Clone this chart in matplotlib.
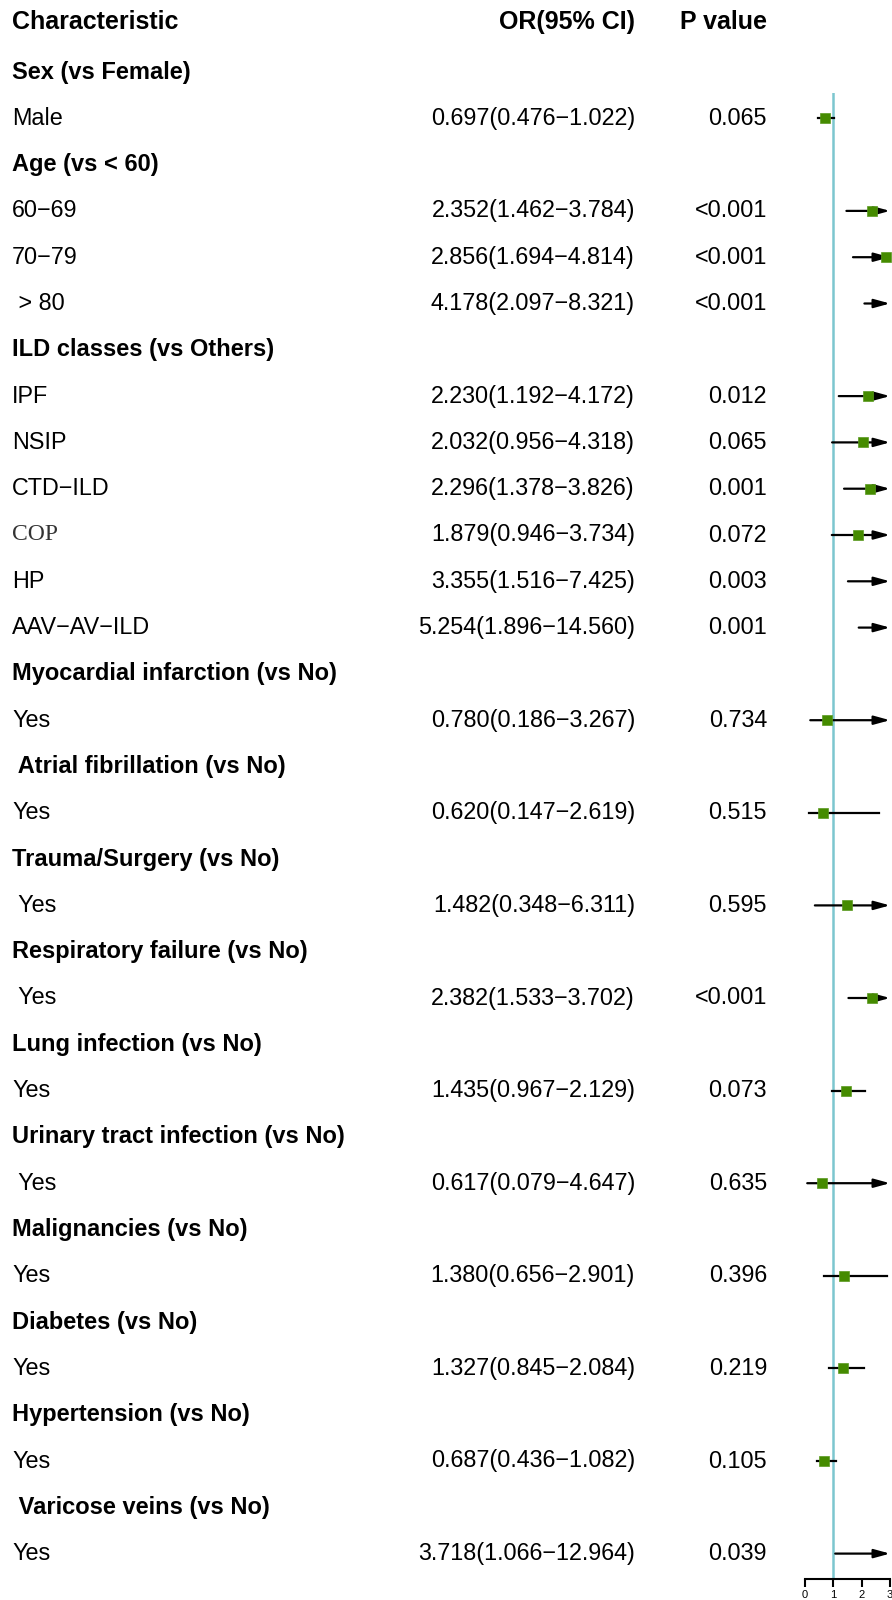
import numpy as np
import matplotlib
matplotlib.use("Agg")
import matplotlib.pyplot as plt

plt.rcParams['font.family'] = ['Liberation Sans', 'DejaVu Sans']

# rows: (label, is_group_header)
labels = [
    "Sex (vs Female)", "Male",
    "Age (vs < 60)", "60\u221269", "70\u221279", " > 80",
    "ILD classes (vs Others)", "IPF", "NSIP", "CTD\u2212ILD", "COP", "HP", "AAV\u2212AV\u2212ILD",
    "Myocardial infarction (vs No)", "Yes",
    " Atrial fibrillation (vs No)", "Yes",
    "Trauma/Surgery (vs No)", " Yes",
    "Respiratory failure (vs No)", " Yes",
    "Lung infection (vs No)", "Yes",
    "Urinary tract infection (vs No)", " Yes",
    "Malignancies (vs No)", "Yes",
    "Diabetes (vs No)", "Yes",
    "Hypertension (vs No)", "Yes",
    " Varicose veins (vs No)", "Yes",
]
is_group = [True, False,
            True, False, False, False,
            True, False, False, False, False, False, False,
            True, False, True, False, True, False, True, False,
            True, False, True, False, True, False, True, False,
            True, False, True, False]

# estimates (None for group rows)
est = [None, 0.697,
       None, 2.352, 2.856, 4.178,
       None, 2.230, 2.032, 2.296, 1.879, 3.355, 5.254,
       None, 0.780, None, 0.620, None, 1.482, None, 2.382,
       None, 1.435, None, 0.617, None, 1.380, None, 1.327,
       None, 0.687, None, 3.718]
low = [None, 0.476,
       None, 1.462, 1.694, 2.097,
       None, 1.192, 0.956, 1.378, 0.946, 1.516, 1.896,
       None, 0.186, None, 0.147, None, 0.348, None, 1.533,
       None, 0.967, None, 0.079, None, 0.656, None, 0.845,
       None, 0.436, None, 1.066]
high = [None, 1.022,
        None, 3.784, 4.814, 8.321,
        None, 4.172, 4.318, 3.826, 3.734, 7.425, 14.560,
        None, 3.267, None, 2.619, None, 6.311, None, 3.702,
        None, 2.129, None, 4.647, None, 2.901, None, 2.084,
        None, 1.082, None, 12.964]
pvals = [None, "0.065",
         None, "<0.001", "<0.001", "<0.001",
         None, "0.012", "0.065", "0.001", "0.072", "0.003", "0.001",
         None, "0.734", None, "0.515", None, "0.595", None, "<0.001",
         None, "0.073", None, "0.635", None, "0.396", None, "0.219",
         None, "0.105", None, "0.039"]

x_ticks = [0, 1, 2, 3]
x_max = 3

W, H = 892, 1600
fig = plt.figure(figsize=(W / 100, H / 100), dpi=100)

# text layer in pixel coordinates
tax = fig.add_axes([0, 0, 1, 1])
tax.set_xlim(0, W)
tax.set_ylim(H, 0)
tax.axis('off')

row0, step = 72, 46.3


def row_y(i):
    return row0 + step * i


tax.text(12, 22, "Characteristic", fontsize=18, fontweight='bold', va='center', ha='left')
tax.text(635, 22, "OR(95% CI)", fontsize=18, fontweight='bold', va='center', ha='right')
tax.text(767, 22, "P value", fontsize=18, fontweight='bold', va='center', ha='right')

for i, lab in enumerate(labels):
    y = row_y(i)
    if is_group[i]:
        tax.text(12, y, lab, fontsize=17, fontweight='bold', va='center', ha='left')
        continue
    if lab == "COP":
        tax.text(12, y, lab, fontsize=17, family='Liberation Serif', color='#333333',
                 va='center', ha='left')
    else:
        tax.text(12, y, lab, fontsize=16.8, va='center', ha='left')
    ci_txt = f"{est[i]:.3f}({low[i]:.3f}\u2212{high[i]:.3f})"
    tax.text(635, y, ci_txt, fontsize=16.8, va='center', ha='right')
    tax.text(767, y, pvals[i], fontsize=16.8, va='center', ha='right')

# forest panel
left_px, right_px = 805, 890
top_px, bot_px = 93, 1579
fax = fig.add_axes([left_px / W, 1 - bot_px / H, (right_px - left_px) / W, (bot_px - top_px) / H])
fax.set_xlim(0, x_max)
y_top = (top_px - row0) / step
y_bot = (bot_px - row0) / step
fax.set_ylim(y_bot, y_top)
fax.patch.set_alpha(0)
for s in ['top', 'right', 'left']:
    fax.spines[s].set_visible(False)
fax.spines['bottom'].set_linewidth(1.5)
fax.set_yticks([])
fax.set_xticks(x_ticks)
fax.tick_params(axis='x', length=6, width=1.5, labelsize=8, pad=2)

fax.axvline(1, color='#7cc6cf', lw=1.8, zorder=1)

for i in range(len(labels)):
    if est[i] is None:
        continue
    lo, hi, e = low[i], high[i], est[i]
    if hi > x_max:
        fax.annotate('', xy=(x_max, i), xytext=(lo, i),
                     arrowprops=dict(arrowstyle='-|>,head_length=0.95,head_width=0.26',
                                     lw=1.6, color='black',
                                     mutation_scale=10, shrinkA=0, shrinkB=0),
                     annotation_clip=False, zorder=2)
    else:
        fax.plot([lo, hi], [i, i], color='black', lw=1.6, zorder=2)
    if e <= x_max:
        fax.plot(e, i, marker='s', ms=7.8, color='#458B00', mec='#5a9a20',
                 mew=0.5, zorder=10, clip_on=False)

fig.savefig("out.png", dpi=100)
